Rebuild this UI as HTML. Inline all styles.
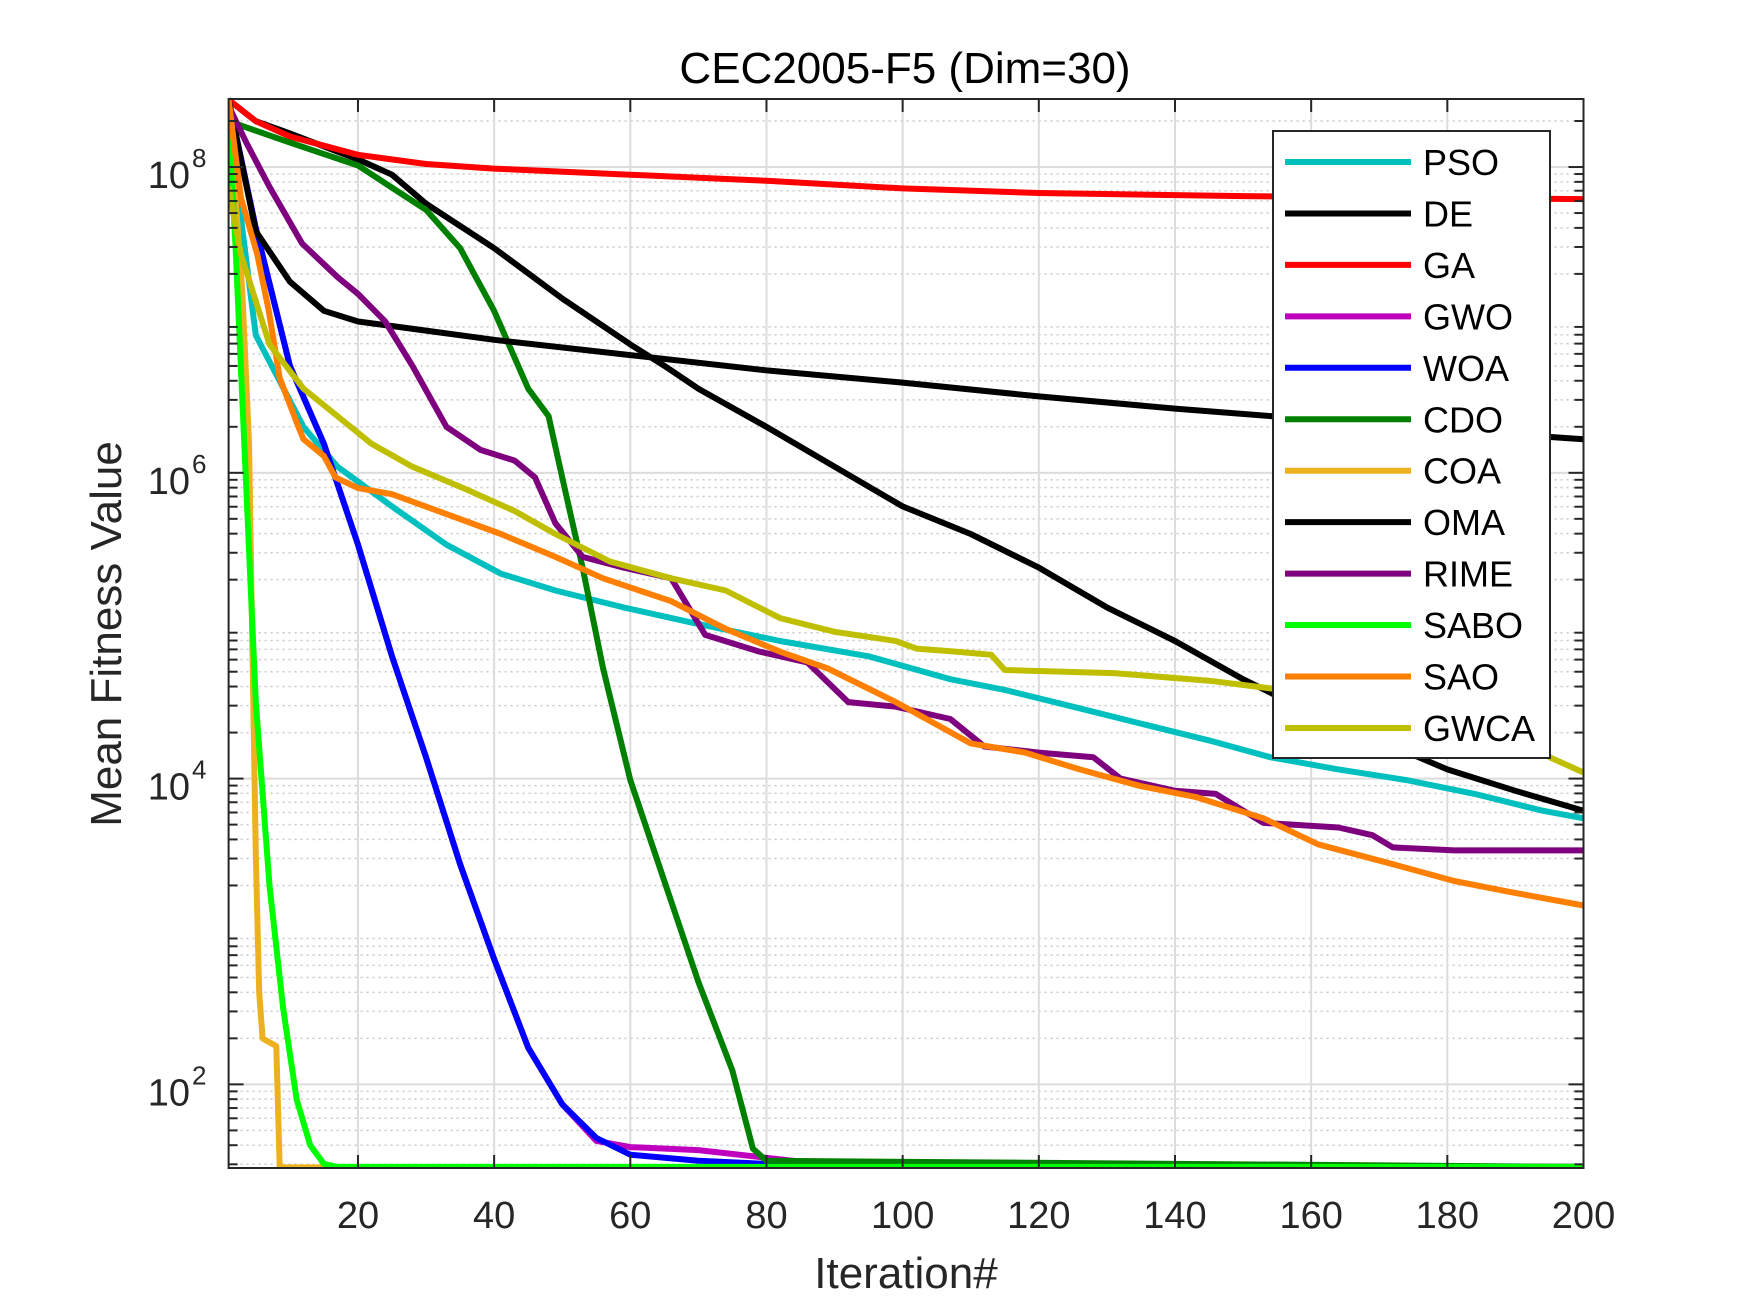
<!DOCTYPE html>
<html><head><meta charset="utf-8"><style>
html,body{margin:0;padding:0;background:#fff;}
svg{display:block;font-family:"Liberation Sans",Arial,sans-serif;}
</style></head><body>
<svg id="chart" width="1750" height="1313" viewBox="0 0 1750 1313" xmlns="http://www.w3.org/2000/svg">
<rect width="1750" height="1313" fill="#fff"/>
<g id="grid"></g>
<g id="series"></g>
<g id="axes"></g>
<text x="905" y="83" font-size="44" text-anchor="middle" fill="#000">CEC2005-F5 (Dim=30)</text>
<text x="906" y="1288" font-size="44" text-anchor="middle" fill="#262626">Iteration#</text>
<text x="0" y="0" font-size="44" text-anchor="middle" fill="#262626" transform="translate(121,634) rotate(-90)">Mean Fitness Value</text>
<g id="legend"></g>
</svg>
<script>
// ---- data (iteration, log10 of mean fitness) ----
const names = ["PSO","DE","GA","GWO","WOA","CDO","COA","OMA","RIME","SABO","SAO","GWCA"];
const colors = ["#00bfbf","#000000","#ff0000","#bf00bf","#0000ff","#008000","#edb120","#000000","#7e007e","#00ff00","#ff7f00","#bfbf00"];
const xTicks = [20,40,60,80,100,120,140,160,180,200];
const yTickExps = [2,4,6,8];
const PSO_it = [1,3,5,8.5,12,17,25,33,41,49,59,69,82,95,107,115,125,135,145,154,164,174,184,194,200];
const PSO_v  = [8.44,7.6,6.9,6.6,6.3,6.04,5.78,5.53,5.34,5.23,5.12,5.02,4.9,4.8,4.65,4.58,4.47,4.36,4.25,4.14,4.06,3.99,3.9,3.79,3.74];
const DE_it = [1,5,10,20,25,30,40,50,60,65,70,80,90,100,110,120,130,140,150,160,170,180,190,200];
const DE_v  = [8.44,8.3,8.22,8.05,7.95,7.76,7.47,7.14,6.84,6.7,6.55,6.3,6.04,5.78,5.6,5.38,5.12,4.9,4.65,4.43,4.25,4.06,3.92,3.79];
const GA_it = [1,5,10,20,30,40,60,80,100,120,150,200];
const GA_v  = [8.44,8.3,8.2,8.08,8.02,7.99,7.95,7.91,7.86,7.83,7.81,7.79];
const GWO_it = [1,5,10,15,20,25,30,35,40,45,50,55,60,70,80,90,200];
const GWO_v  = [8.44,7.6,6.7,6.19,5.53,4.8,4.14,3.44,2.82,2.24,1.87,1.63,1.59,1.57,1.52,1.47,1.46];
const WOA_it = [1,5,10,15,20,25,30,35,40,45,50,55,60,70,80,100,200];
const WOA_v  = [8.44,7.6,6.7,6.19,5.53,4.8,4.14,3.44,2.82,2.24,1.87,1.65,1.54,1.5,1.48,1.46,1.46];
const CDO_it = [1,10,20,30,35,40,45,48,50,53,56,60,65,70,75,78,80,200];
const CDO_v  = [8.3,8.16,8.01,7.72,7.47,7.06,6.55,6.37,5.97,5.38,4.72,3.99,3.33,2.67,2.09,1.58,1.5,1.46];
const COA_it = [1,2,3,4,5,5.5,6,8,8.5,200];
const COA_v  = [8.4,7.8,7.2,6.2,3.5,2.6,2.3,2.25,1.455,1.455];
const OMA_it = [1,5,10,15,20,30,40,60,80,100,120,140,160,180,200];
const OMA_v  = [8.44,7.58,7.25,7.06,6.99,6.93,6.87,6.77,6.67,6.59,6.5,6.42,6.35,6.28,6.22];
const RIME_it = [1,3.6,7,11.8,17,20,24,28,33,38,43,46,49,53,59,66,71,79,86,92,99,107,112,120,128,132,140,146,153,164,169,172,181,200];
const RIME_v  = [8.4,8.16,7.87,7.5,7.28,7.17,6.99,6.7,6.3,6.15,6.08,5.97,5.67,5.45,5.38,5.31,4.94,4.83,4.76,4.5,4.47,4.39,4.21,4.17,4.14,4.0,3.92,3.9,3.71,3.68,3.63,3.55,3.53,3.53];
const SABO_it = [1,2,3,5,7,9,11,13,15,17,200];
const SABO_v  = [8.3,7.5,6.5,4.5,3.3,2.5,1.9,1.6,1.48,1.46,1.46];
const SAO_it = [1,2.8,5.2,6.9,8.5,11,12,15,16.7,20,25,33,41,49,56,66,74,82,89,99,110,118,126,135,143,153,161,172,181,189,200];
const SAO_v  = [8.44,7.8,7.43,7.06,6.62,6.33,6.22,6.11,5.97,5.9,5.86,5.73,5.6,5.45,5.31,5.16,4.98,4.83,4.72,4.5,4.23,4.17,4.06,3.95,3.88,3.74,3.57,3.44,3.33,3.26,3.17];
const GWCA_it = [1,2.8,7,12,17,22,28,36,43,49,57,66,74,82,90,99,102,108,113,115,131,145,154,170,185,193,195,200];
const GWCA_v  = [7.87,7.43,6.84,6.55,6.37,6.19,6.04,5.89,5.75,5.6,5.42,5.31,5.23,5.05,4.96,4.9,4.85,4.83,4.81,4.71,4.69,4.64,4.59,4.5,4.4,4.3,4.14,4.04];

const seriesIt = [PSO_it,DE_it,GA_it,GWO_it,WOA_it,CDO_it,COA_it,OMA_it,RIME_it,SABO_it,SAO_it,GWCA_it];
const seriesV  = [PSO_v,DE_v,GA_v,GWO_v,WOA_v,CDO_v,COA_v,OMA_v,RIME_v,SABO_v,SAO_v,GWCA_v];

// ---- axes ----
const L=228.6,R=1583.5,T=99,B=1168;
const XMIN=1,XMAX=200,YMIN=1.453,YMAX=8.445;
function xs(v){return L+(v-XMIN)/(XMAX-XMIN)*(R-L);}
function ys(lv){return B-(lv-YMIN)/(YMAX-YMIN)*(B-T);}
const NS="http://www.w3.org/2000/svg";
function mk(tag,parent,attrs){const e=document.createElementNS(NS,tag);for(const k in attrs)e.setAttribute(k,attrs[k]);parent.appendChild(e);return e;}

const grid=document.getElementById('grid');
const axes=document.getElementById('axes');
for(let d=1;d<=8;d++){
  for(let m=2;m<=9;m++){
    const lv=d+Math.log10(m);
    if(lv<YMIN||lv>YMAX) continue;
    const y=ys(lv);
    const g=mk('line',grid,{x1:L,x2:R,y1:y,y2:y,stroke:'#c8c8c8','stroke-width':1.5,'stroke-dasharray':'2 4'});
    
    
    const t1=mk('line',axes,{x1:L,x2:L+9,y1:y,y2:y,stroke:'#262626','stroke-width':2});
    
    
    const t2=mk('line',axes,{x1:R,x2:R-9,y1:y,y2:y,stroke:'#262626','stroke-width':2});
    
    
  }
}
yTickExps.forEach(e=>{
  const y=ys(e);
  const g=mk('line',grid,{x1:L,x2:R,y1:y,y2:y,stroke:'#dcdcdc','stroke-width':2});
  
  
  const t1=mk('line',axes,{x1:L,x2:L+15,y1:y,y2:y,stroke:'#262626','stroke-width':2});
  
  
  const t2=mk('line',axes,{x1:R,x2:R-15,y1:y,y2:y,stroke:'#262626','stroke-width':2});
  
  
  const tx=mk('text',axes,{x:190,y:y+21,'font-size':38,'text-anchor':'end',fill:'#262626'});
  
  
  tx.textContent='10';
  const sp=mk('text',axes,{x:192,y:y,'font-size':26,fill:'#262626'});
  
  
  sp.textContent=String(e);
});
xTicks.forEach(v=>{
  const x=xs(v);
  const g=mk('line',grid,{x1:x,x2:x,y1:T,y2:B,stroke:'#dcdcdc','stroke-width':2});
  
  
  const t1=mk('line',axes,{x1:x,x2:x,y1:B,y2:B-13,stroke:'#262626','stroke-width':2});
  
  
  const t2=mk('line',axes,{x1:x,x2:x,y1:T,y2:T+13,stroke:'#262626','stroke-width':2});
  
  
  const tx=mk('text',axes,{x:x,y:1228,'font-size':38,'text-anchor':'middle',fill:'#262626'});
  
  
  tx.textContent=String(v);
});
const box=mk('rect',axes,{x:L,y:T,width:R-L,height:B-T,fill:'none',stroke:'#262626','stroke-width':2});



const sg=document.getElementById('series');
const clip=mk('clipPath',sg,{id:'pc'});
mk('rect',clip,{x:L,y:T-4,width:R-L+2,height:B-T+4});
seriesIt.forEach((its,i)=>{
  const vs=seriesV[i];
  const pts=its.map((it,k)=>xs(it).toFixed(1)+','+ys(Math.max(vs[k],YMIN+0.004)).toFixed(1)).join(' ');
  const p=mk('polyline',sg,{points:pts,fill:'none',stroke:colors[i],'stroke-width':6,'stroke-linejoin':'round','clip-path':'url(#pc)'});
  
  
});

const lg=document.getElementById('legend');
const lb=mk('rect',lg,{x:1273,y:131,width:277,height:627,fill:'#fff',stroke:'#262626','stroke-width':2});


names.forEach((n,i)=>{
  const y=162+i*51.45;
  const ln=mk('line',lg,{x1:1285,x2:1411,y1:y,y2:y,stroke:colors[i],'stroke-width':6});
  
  
  const t=mk('text',lg,{x:1423,y:y+13,'font-size':36,fill:'#000'});
  
  
  t.textContent=n;
});
</script>
</body></html>
